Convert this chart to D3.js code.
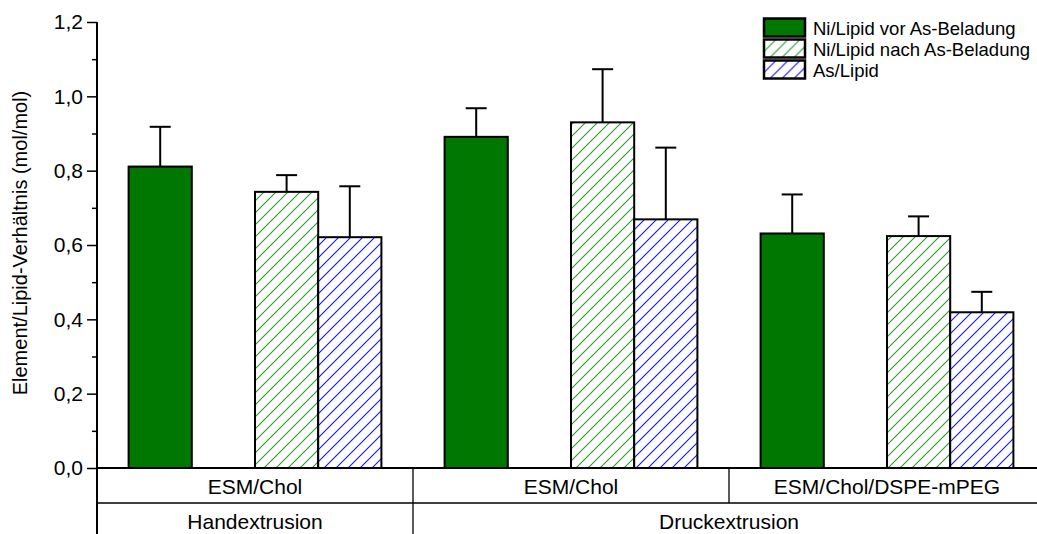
<!DOCTYPE html>
<html>
<head>
<meta charset="utf-8">
<script src="https://cdn.jsdelivr.net/npm/d3@7"></script>
<style>
  html, body { margin: 0; padding: 0; background: #fff; }
  svg { display: block; font-family: "Liberation Sans", Arial, sans-serif; }
</style>
</head>
<body>
<svg id="chart" width="1037" height="534"></svg>
<script>
// Lipid formulations (lower row) and extrusion methods (bottom row)
const formulations = ["ESM/Chol", "ESM/Chol", "ESM/Chol/DSPE-mPEG"];
const methods = ["Handextrusion", "Druckextrusion"];
const methodSpan = [1, 2]; // number of formulation columns per method

// Series: mean values and upper error bars
const seriesNames = ["Ni/Lipid vor As-Beladung", "Ni/Lipid nach As-Beladung", "As/Lipid"];
const niVor = [0.811, 0.891, 0.631];
const niVorErr = [0.107, 0.077, 0.105];
const niNach = [0.743, 0.930, 0.624];
const niNachErr = [0.045, 0.143, 0.053];
const asLipid = [0.621, 0.669, 0.419];
const asLipidErr = [0.137, 0.193, 0.055];

const yTicks = [0, 0.2, 0.4, 0.6, 0.8, 1.0, 1.2];
const yMinorTicks = [0.1, 0.3, 0.5, 0.7, 0.9, 1.1];

(function draw() {
const svg = d3.select("#chart");
const W = 1037, H = 534;
const mLeft = 97, mRight = 1045, mTop = 22, base = 468, row2 = 503;

const y = d3.scaleLinear().domain([0, 1.2]).range([base, mTop]);
const colIds = formulations.map((d, i) => i);
const x = d3.scaleBand().domain(colIds).range([mLeft, mRight]).padding(0);
// inner slots: first bar, empty slot, then two adjacent bars
const inner = d3.scaleBand().domain(["vor", "gap", "nach", "as"])
  .range([0, x.bandwidth()]).paddingInner(0).paddingOuter(0.5);

// hatch patterns
const defs = svg.append("defs");
function hatch(id, color) {
  const p = defs.append("pattern").attr("id", id)
    .attr("patternUnits", "userSpaceOnUse").attr("width", 12).attr("height", 12);
  p.append("rect").attr("width", 12).attr("height", 12).attr("fill", "#fff");
  p.append("path").attr("d", "M-3,3 L3,-3 M0,12 L12,0 M9,15 L15,9")
    .attr("stroke", color).attr("stroke-width", 1.1);
}
hatch("hatchGreen", "#2f9a2f");
hatch("hatchBlue", "#1414ff");

const series = [
  { key: "vor", name: seriesNames[0], values: niVor, errs: niVorErr, fill: "#007700" },
  { key: "nach", name: seriesNames[1], values: niNach, errs: niNachErr, fill: "url(#hatchGreen)" },
  { key: "as", name: seriesNames[2], values: asLipid, errs: asLipidErr, fill: "url(#hatchBlue)" }
];

// error bars (drawn first so bar outlines sit on top)
const capW = 21;
series.forEach(s => {
  const g = svg.append("g");
  s.values.forEach((v, i) => {
    const cx = x(i) + inner(s.key) + inner.bandwidth() / 2;
    g.append("line").attr("x1", cx).attr("x2", cx)
      .attr("y1", y(v)).attr("y2", y(v + s.errs[i]))
      .attr("stroke", "#000").attr("stroke-width", 2);
    g.append("line").attr("x1", cx - capW / 2).attr("x2", cx + capW / 2)
      .attr("y1", y(v + s.errs[i])).attr("y2", y(v + s.errs[i]))
      .attr("stroke", "#000").attr("stroke-width", 2);
  });
});

// bars
series.forEach(s => {
  svg.append("g").selectAll("rect").data(s.values).join("rect")
    .attr("x", (d, i) => x(i) + inner(s.key))
    .attr("y", d => y(d))
    .attr("width", inner.bandwidth())
    .attr("height", d => base - y(d))
    .attr("fill", s.fill)
    .attr("stroke", "#000").attr("stroke-width", 2);
});

// y axis
const yAxis = d3.axisLeft(y).tickValues(yTicks).tickSize(10).tickPadding(4)
  .tickFormat(d => d3.format(".1f")(d).replace(".", ","));
const ya = svg.append("g").attr("transform", `translate(${mLeft},0)`).call(yAxis);
ya.select(".domain").remove();
ya.selectAll(".tick line").attr("stroke", "#000").attr("stroke-width", 1.5);
ya.selectAll(".tick text").attr("font-size", 21).attr("fill", "#000")
  .attr("font-family", "Liberation Sans, Arial, sans-serif");
const yMinor = d3.axisLeft(y).tickValues(yMinorTicks).tickSize(5).tickFormat("");
const ym = svg.append("g").attr("transform", `translate(${mLeft},0)`).call(yMinor);
ym.select(".domain").remove();
ym.selectAll(".tick line").attr("stroke", "#000").attr("stroke-width", 1.5);

svg.append("line").attr("x1", mLeft).attr("x2", mLeft).attr("y1", mTop).attr("y2", H)
  .attr("stroke", "#000").attr("stroke-width", 2);
svg.append("line").attr("x1", mLeft).attr("x2", W).attr("y1", base).attr("y2", base)
  .attr("stroke", "#000").attr("stroke-width", 2);

// y title
svg.append("text")
  .attr("transform", `translate(27,243) rotate(-90)`)
  .attr("text-anchor", "middle").attr("font-size", 20).attr("fill", "#000")
  .text("Element/Lipid-Verhältnis (mol/mol)");

// category table
svg.append("line").attr("x1", mLeft).attr("x2", W).attr("y1", row2).attr("y2", row2)
  .attr("stroke", "#000").attr("stroke-width", 1.3);
colIds.forEach(i => {
  if (i > 0) {
    svg.append("line").attr("x1", x(i)).attr("x2", x(i)).attr("y1", base).attr("y2", row2)
      .attr("stroke", "#000").attr("stroke-width", 1.3);
  }
  svg.append("text").attr("x", x(i) + x.bandwidth() / 2).attr("y", base + 26)
    .attr("text-anchor", "middle").attr("font-size", 21).attr("fill", "#000")
    .text(formulations[i]);
});
let start = 0;
methods.forEach((m, j) => {
  const x0 = x(start);
  const x1 = x(start + methodSpan[j] - 1) + x.bandwidth();
  if (j > 0) {
    svg.append("line").attr("x1", x0).attr("x2", x0).attr("y1", row2).attr("y2", H)
      .attr("stroke", "#000").attr("stroke-width", 1.3);
  }
  svg.append("text").attr("x", (x0 + x1) / 2).attr("y", row2 + 26)
    .attr("text-anchor", "middle").attr("font-size", 21).attr("fill", "#000")
    .text(m);
  start += methodSpan[j];
});

// legend
const lg = svg.append("g").attr("transform", "translate(764,18.5)");
series.forEach((s, i) => {
  const row = lg.append("g").attr("transform", `translate(0,${i * 21})`);
  row.append("rect").attr("width", 41).attr("height", 18)
    .attr("fill", s.fill).attr("stroke", "#000").attr("stroke-width", 2.5);
  row.append("text").attr("x", 49).attr("y", 16.5).attr("font-size", 18.5)
    .attr("fill", "#000").text(s.name);
});
})();
</script>
</body>
</html>
